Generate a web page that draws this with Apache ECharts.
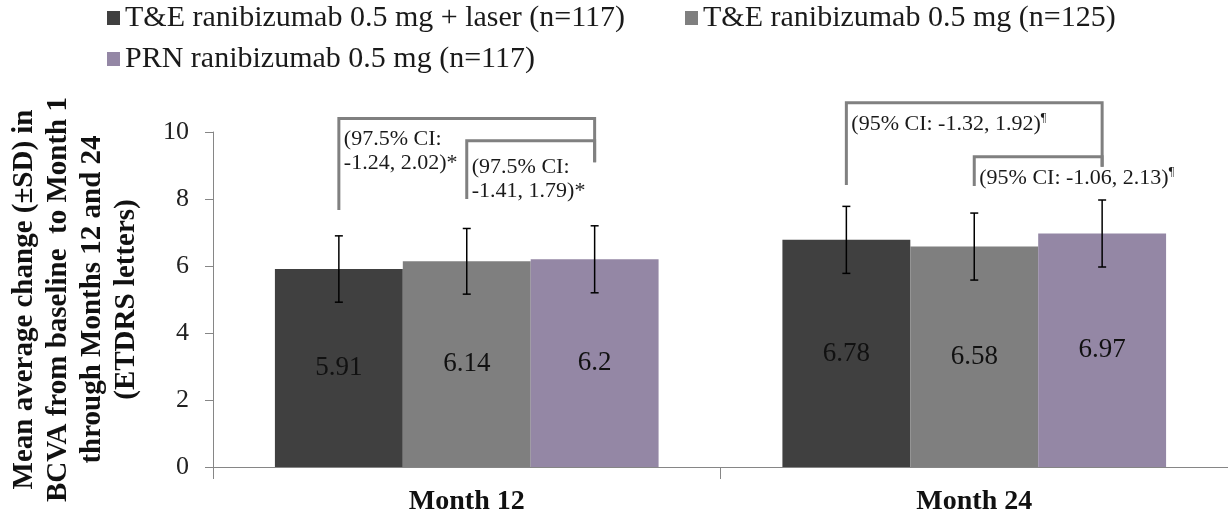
<!DOCTYPE html>
<html>
<head>
<meta charset="utf-8">
<script src="https://cdn.jsdelivr.net/npm/echarts@6/dist/echarts.min.js"></script>
<style>
html,body{margin:0;padding:0;background:#fff;}
#chart{width:1228px;height:517px;}
</style>
</head>
<body>
<div id="chart"></div>
<script>
// ---- data ----
const categories = ['Month 12', 'Month 24'];
const seriesNames = [
  'T&E ranibizumab 0.5 mg + laser (n=117)',
  'T&E ranibizumab 0.5 mg (n=125)',
  'PRN ranibizumab 0.5 mg (n=117)'
];
const teLaserMean = [5.91, 6.78];
const teMean = [6.14, 6.58];
const prnMean = [6.2, 6.97];
const teLaserSD = [0.99, 1.0];
const teSD = [0.98, 1.0];
const prnSD = [1.0, 1.0];
const yTicks = [0, 2, 4, 6, 8, 10];

// brackets: [categoryIndex, fromSeries, toSeries, topValue, leftEndValue, rightEndValue]
const brackets = [
  [0, 0, 2, 10.40, 7.67, 9.10],
  [0, 1, 2, 9.74, 8.00, 9.10],
  [1, 0, 2, 10.87, 8.42, 8.96],
  [1, 1, 2, 9.26, 8.39, 8.96]
];
const bracketTexts = [
  ['(97.5% CI:', '-1.24, 2.02)*'],
  ['(97.5% CI:', '-1.41, 1.79)*'],
  ['(95% CI: -1.32, 1.92){s|¶}'],
  ['(95% CI: -1.06, 2.13){s|¶}']
];

// ---- styles ----
const colors = ['#404040', '#7f7f7f', '#9487a5'];
const BAR_FRAC = 0.252;
const FONT = '"Liberation Serif", "Times New Roman", serif';
const bracketTextDy = [9, 15, 9, 9];

const means = [teLaserMean, teMean, prnMean];
const sds = [teLaserSD, teSD, prnSD];

function errorRender(sIdx) {
  return function (params, api) {
    const cat = api.value(0), lo = api.value(1), hi = api.value(2);
    const band = api.size([1, 0])[0];
    const bw = band * BAR_FRAC;
    const cx = api.coord([cat, 0])[0] + (sIdx - 1) * bw;
    const yLo = api.coord([cat, lo])[1];
    const yHi = api.coord([cat, hi])[1];
    const cap = 4;
    const st = { stroke: '#000', lineWidth: 1.5 };
    return {
      type: 'group',
      children: [
        { type: 'line', shape: { x1: cx, y1: yLo, x2: cx, y2: yHi }, style: st },
        { type: 'line', shape: { x1: cx - cap, y1: yLo, x2: cx + cap, y2: yLo }, style: st },
        { type: 'line', shape: { x1: cx - cap, y1: yHi, x2: cx + cap, y2: yHi }, style: st }
      ]
    };
  };
}

function bracketRender(params, api) {
  const cat = api.value(0), from = api.value(1), to = api.value(2);
  const top = api.value(3), lEnd = api.value(4), rEnd = api.value(5);
  const band = api.size([1, 0])[0];
  const bw = band * BAR_FRAC;
  const c = api.coord([cat, 0])[0];
  const xL = c + (from - 1) * bw;
  const xR = c + (to - 1) * bw;
  const yT = api.coord([cat, top])[1];
  const yL = api.coord([cat, lEnd])[1];
  const yR = api.coord([cat, rEnd])[1];
  return {
    type: 'group',
    children: [
      {
        type: 'polyline',
        shape: { points: [[xL, yL], [xL, yT], [xR, yT], [xR, yR]] },
        style: { stroke: '#808080', lineWidth: 3, fill: null }
      },
      {
        type: 'text',
        x: xL + 5,
        y: yT + bracketTextDy[params.dataIndex],
        style: {
          text: bracketTexts[params.dataIndex].join('\n'),
          font: '22px ' + FONT,
          fill: '#1a1a1a',
          lineHeight: 24,
          verticalAlign: 'top',
          align: 'left',
          rich: {
            s: { fontSize: 12, fontFamily: FONT, fill: '#1a1a1a', verticalAlign: 'top', lineHeight: 24 }
          }
        }
      }
    ]
  };
}

const barSeries = means.map((m, i) => ({
  type: 'bar',
  name: seriesNames[i],
  data: m,
  barWidth: (BAR_FRAC * 100) + '%',
  barGap: '0%',
  itemStyle: { color: colors[i] },
  label: {
    show: true,
    position: 'inside',
    fontSize: 27,
    fontFamily: FONT,
    color: '#111'
  },
  z: 2
}));

const errSeries = means.map((m, i) => ({
  type: 'custom',
  name: 'err' + i,
  renderItem: errorRender(i),
  data: m.map((v, k) => [k, v - sds[i][k], v + sds[i][k]]),
  z: 5,
  clip: false,
  silent: true
}));

const bracketSeries = {
  type: 'custom',
  name: 'brackets',
  renderItem: bracketRender,
  data: brackets,
  clip: false,
  silent: true,
  z: 6
};

const legendText = { fontSize: 30, fontFamily: FONT, color: '#1a1a1a' };
const legendBase = { icon: 'rect', itemWidth: 13, itemHeight: 14, textStyle: legendText, padding: 0, selectedMode: false };

const option = {
  animation: false,
  backgroundColor: '#fff',
  legend: [
    Object.assign({ data: [seriesNames[0]], left: 107, top: 3 }, legendBase),
    Object.assign({ data: [seriesNames[1]], left: 685, top: 3 }, legendBase),
    Object.assign({ data: [seriesNames[2]], left: 107, top: 44 }, legendBase)
  ],
  grid: { left: 207, top: 132, width: 1024, height: 335, containLabel: false },
  xAxis: {
    type: 'category',
    data: categories,
    axisLine: { lineStyle: { color: '#868686', width: 1 } },
    axisTick: { show: true, length: 12, lineStyle: { color: '#868686' } },
    axisLabel: { fontSize: 28, fontWeight: 'bold', fontFamily: FONT, color: '#111', margin: 21 }
  },
  yAxis: {
    type: 'value',
    min: yTicks[0],
    max: yTicks[yTicks.length - 1],
    interval: yTicks[1] - yTicks[0],
    axisLine: { show: true, lineStyle: { color: '#868686', width: 1 } },
    axisTick: { show: true, length: 8, lineStyle: { color: '#868686' } },
    splitLine: { show: false },
    axisLabel: { fontSize: 26, fontFamily: FONT, color: '#222', margin: 24 },
    name: 'Mean average change (±SD) in\nBCVA from baseline  to Month 1\nthrough Months 12 and 24\n(ETDRS letters)',
    nameLocation: 'middle',
    nameRotate: 90,
    nameGap: 69,
    nameTextStyle: { fontSize: 29, fontWeight: 'bold', fontFamily: FONT, color: '#111', lineHeight: 34, align: 'center' }
  },
  series: barSeries.concat(errSeries, [bracketSeries])
};

const chart = echarts.init(document.getElementById('chart'), null, { renderer: 'canvas' });
chart.setOption(option);
</script>
</body>
</html>
